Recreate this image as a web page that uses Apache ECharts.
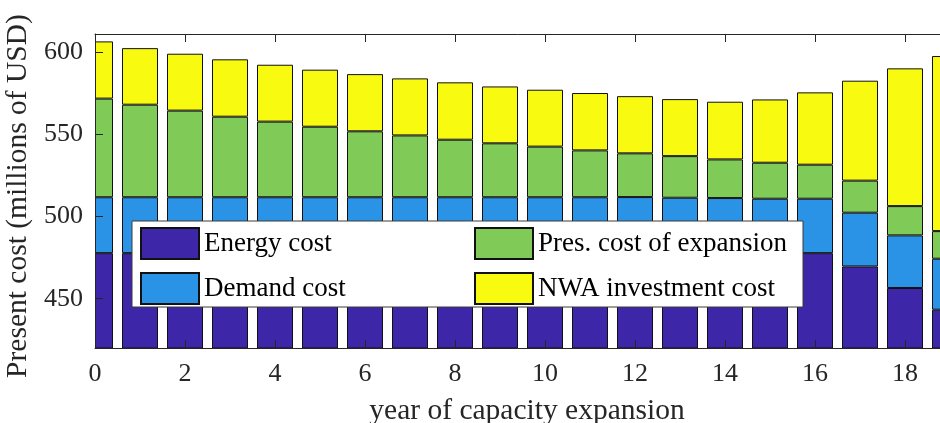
<!DOCTYPE html>
<html>
<head>
<meta charset="utf-8">
<script src="https://cdn.jsdelivr.net/npm/echarts@6/dist/echarts.min.js"></script>
<style>html,body{margin:0;padding:0;background:#fff}#c{width:940px;height:423px}</style>
</head>
<body>
<div id="c"></div>
<script>
const years = [0,1,2,3,4,5,6,7,8,9,10,11,12,13,14,15,16,17,18,19];
const energyCost = [477.7,477.7,477.7,477.7,477.7,477.7,477.7,477.7,477.7,477.7,477.7,477.7,477.7,477.7,477.7,477.7,477.7,469.6,456.5,443.3];
const demandCost = [34.0,34.0,34.0,34.0,34.0,34.0,34.0,34.0,34.0,34.0,34.0,34.0,34.1,33.7,33.5,33.1,33.1,32.7,32.0,31.0];
const expansionCost = [60.0,56.3,52.7,49.0,46.0,42.9,40.1,37.6,35.0,32.8,30.8,28.5,26.6,25.3,23.5,21.9,20.7,19.5,17.8,16.8];
const nwaCost = [34.8,34.4,34.6,34.9,34.6,34.7,34.8,34.7,34.9,34.6,34.6,34.9,34.8,34.7,35.1,38.5,44.0,60.8,83.8,106.5];
const xTicks = [0,2,4,6,8,10,12,14,16,18];
const yTicks = [450,500,550,600];
const seriesNames = ['Energy cost','Demand cost','Pres. cost of expansion','NWA investment cost'];
const seriesValues = [energyCost, demandCost, expansionCost, nwaCost];
const colors = ['#3E26A8','#2A93E6','#80CB58','#F8FA10'];

const chart = echarts.init(document.getElementById('c'), null, {renderer:'canvas'});
const font = 'Liberation Serif';
const axisLineStyle = {color:'#262626', width:1};
chart.setOption({
  animation:false,
  grid:{left:95, right:-10, top:34, bottom:75, outerBoundsMode:'none', containLabel:false},
  xAxis:[
    {type:'category', data:years, boundaryGap:false, show:false},
    {type:'value', min:0, max:19, position:'bottom', z:6,
     axisLine:{show:true, lineStyle:axisLineStyle},
     axisTick:{show:true, inside:true, length:8, customValues:xTicks, lineStyle:axisLineStyle},
     axisLabel:{customValues:xTicks, fontFamily:font, fontSize:26, color:'#262626', margin:13},
     splitLine:{show:false},
     name:'year of capacity expansion', nameLocation:'middle', nameGap:48,
     nameTextStyle:{fontFamily:font, fontSize:29.5, color:'#262626', padding:[0,0,0,9]}},
    {type:'value', min:0, max:19, position:'top', z:6,
     axisLine:{show:true, lineStyle:axisLineStyle},
     axisTick:{show:true, inside:true, length:8, customValues:xTicks, lineStyle:axisLineStyle},
     axisLabel:{show:false}, splitLine:{show:false}}
  ],
  yAxis:{
    type:'value', min:420, max:611, z:6,
    axisLine:{show:true, lineStyle:axisLineStyle},
    axisTick:{show:true, inside:true, length:8, customValues:yTicks, lineStyle:axisLineStyle},
    axisLabel:{customValues:yTicks, fontFamily:font, fontSize:26, color:'#262626', margin:12},
    splitLine:{show:false},
    name:'Present cost (millions of USD)', nameLocation:'middle', nameGap:56,
    nameTextStyle:{fontFamily:font, fontSize:29.5, color:'#262626', padding:[0,10,0,0]}
  },
  legend:[
    {data:[seriesNames[0],seriesNames[1]], orient:'vertical', left:140, top:227, padding:0,
     icon:'rect', itemWidth:58, itemHeight:31, itemGap:12, z:8,
     textStyle:{fontFamily:font, fontSize:27, color:'#000'}},
    {data:[seriesNames[2],seriesNames[3]], orient:'vertical', left:474, top:227, padding:0,
     icon:'rect', itemWidth:58, itemHeight:31, itemGap:12, z:8,
     textStyle:{fontFamily:font, fontSize:27, color:'#000'}}
  ],
  graphic:[
    {type:'rect', z:4, shape:{x:0, y:20, width:95, height:340}, style:{fill:'#fff'}},
    {type:'rect', z:7, shape:{x:132, y:221, width:671, height:86},
     style:{fill:'#fff', stroke:'#3a3a3a', lineWidth:1}}
  ],
  series: seriesNames.map((n,i)=>({
    name:n, type:'bar', stack:'total', barWidth:36, clip:true, xAxisIndex:0,
    itemStyle:{color:colors[i], borderColor:'#111', borderWidth:1},
    data: seriesValues[i]
  }))
});
</script>
</body>
</html>
